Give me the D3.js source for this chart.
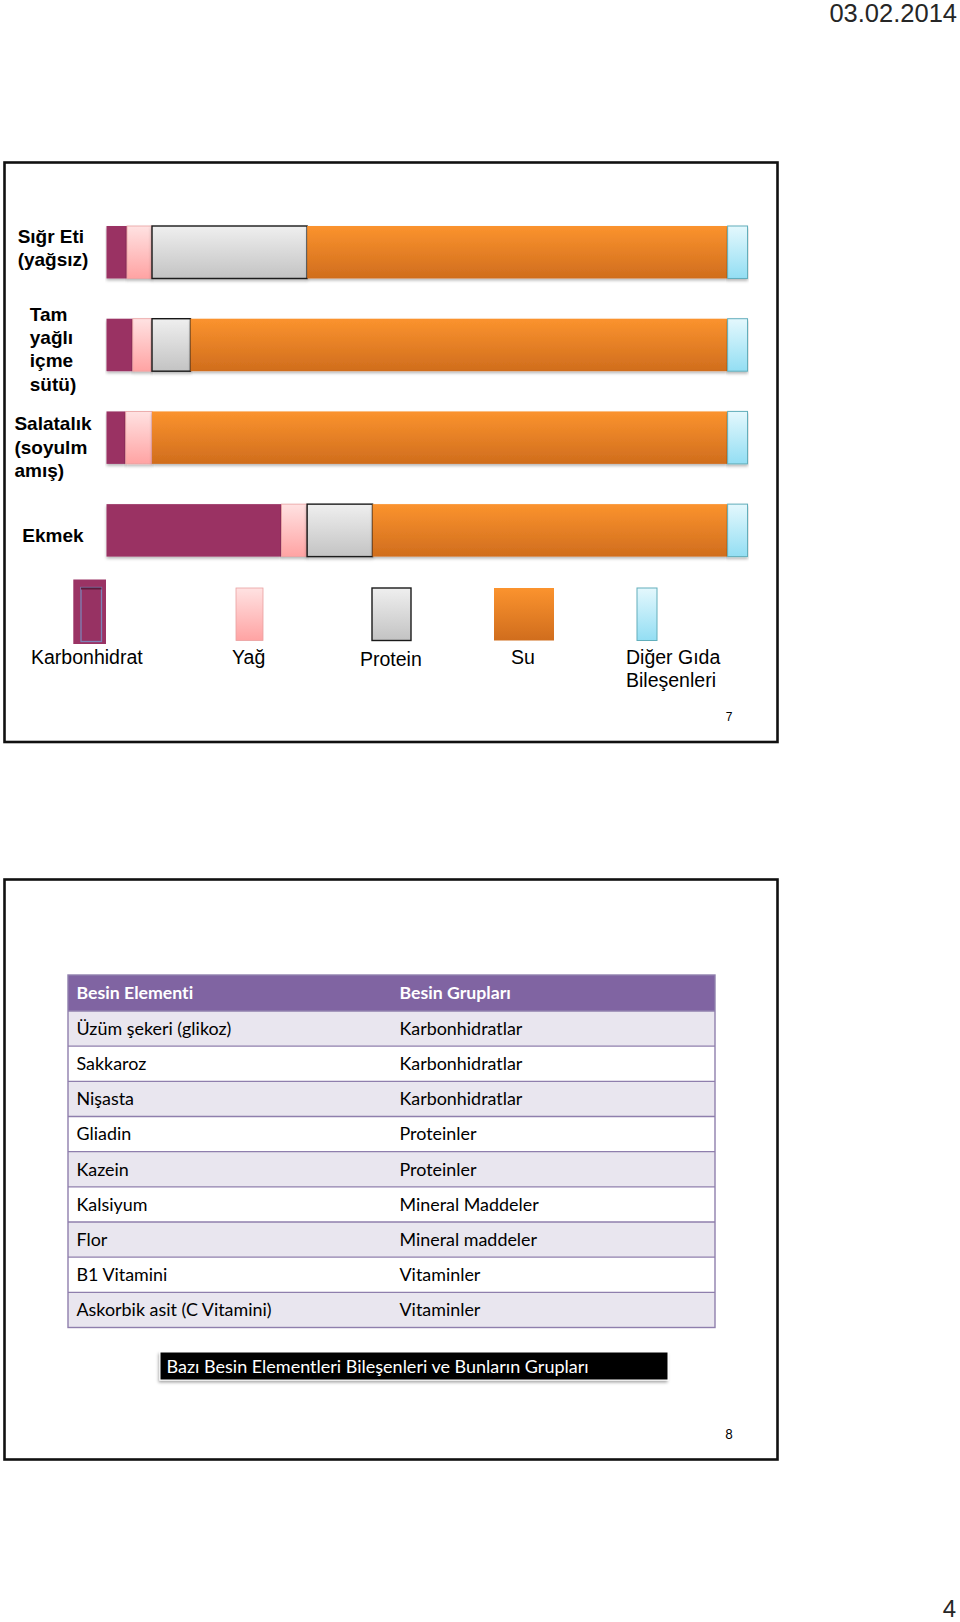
<!DOCTYPE html>
<html>
<head>
<meta charset="utf-8">
<script src="https://cdn.jsdelivr.net/npm/d3@7/dist/d3.min.js"></script>
<style>
  html, body { margin: 0; padding: 0; background: #fff; }
  svg { display: block; }
  text { font-variant-ligatures: none; font-feature-settings: "liga" 0, "clig" 0; }
</style>
</head>
<body>
<svg id="page" width="960" height="1622"></svg>
<script>
// ---------------- DATA ----------------
const foods = ["Sığr Eti (yağsız)", "Tam yağlı içme sütü)", "Salatalık (soyulmamış)", "Ekmek"];
const foodLabelLines = [["Sığr Eti", "(yağsız)"], ["Tam", "yağlı", "içme", "sütü)"], ["Salatalık", "(soyulm", "amış)"], ["Ekmek"]];
const seriesKeys = ["Karbonhidrat", "Yağ", "Protein", "Su", "Diğer Gıda Bileşenleri"];
const carbValues    = [3.2, 4.1, 3.0, 27.3];
const fatValues     = [3.9, 3.0, 4.1, 4.0];
const proteinValues = [24.2, 6.0, 0.0, 10.2];
const waterValues   = [65.6, 83.8, 89.8, 55.4];
const otherValues   = [3.1, 3.1, 3.1, 3.1];
const legendLabelLines = [["Karbonhidrat"], ["Yağ"], ["Protein"], ["Su"], ["Diğer Gıda", "Bileşenleri"]];

const tableHeaders = ["Besin Elementi", "Besin Grupları"];
const nutrientElements = ["Üzüm şekeri (glikoz)", "Sakkaroz", "Nişasta", "Gliadin", "Kazein", "Kalsiyum", "Flor", "B1 Vitamini", "Askorbik asit (C Vitamini)"];
const nutrientGroups = ["Karbonhidratlar", "Karbonhidratlar", "Karbonhidratlar", "Proteinler", "Proteinler", "Mineral Maddeler", "Mineral maddeler", "Vitaminler", "Vitaminler"];
const tableCaption = "Bazı Besin Elementleri Bileşenleri ve Bunların Grupları";
const headerDate = "03.02.2014";
const slideNumbers = ["7", "8"];
const pageNumber = "4";

// ---------------- LAYOUT ----------------
const svg = d3.select("#page");
const defs = svg.append("defs");

function vGrad(id, top, bottom) {
  const g = defs.append("linearGradient").attr("id", id).attr("x1", 0).attr("y1", 0).attr("x2", 0).attr("y2", 1);
  g.append("stop").attr("offset", "0%").attr("stop-color", top);
  g.append("stop").attr("offset", "100%").attr("stop-color", bottom);
}
vGrad("gFat", "#ffe2e2", "#ffa3a3");
vGrad("gProt", "#efefef", "#c3c3c3");
vGrad("gWater", "#fb932e", "#d06d1d");
vGrad("gOther", "#e4f8fd", "#93def3");

const shadow = defs.append("filter").attr("id", "shadow").attr("x", "-5%").attr("y", "-20%").attr("width", "110%").attr("height", "150%");
shadow.append("feDropShadow").attr("dx", 0).attr("dy", 2).attr("stdDeviation", 1.6).attr("flood-color", "#000").attr("flood-opacity", 0.28);
const capShadow = defs.append("filter").attr("id", "capShadow").attr("x", "-5%").attr("y", "-30%").attr("width", "110%").attr("height", "180%");
capShadow.append("feDropShadow").attr("dx", -1).attr("dy", 2).attr("stdDeviation", 1.5).attr("flood-color", "#000").attr("flood-opacity", 0.35);

const seriesStyle = {
  "Karbonhidrat": { fill: "#9a3364", stroke: "none", sw: 0 },
  "Yağ": { fill: "url(#gFat)", stroke: "#e9a0a0", sw: 0.8 },
  "Protein": { fill: "url(#gProt)", stroke: "#1a1a1a", sw: 1.4 },
  "Su": { fill: "url(#gWater)", stroke: "none", sw: 0 },
  "Diğer Gıda Bileşenleri": { fill: "url(#gOther)", stroke: "#62aebb", sw: 1 }
};

// Slide frames
const frames = [{ x: 4.5, y: 162.5, w: 773, h: 579.5 }, { x: 4.5, y: 879.5, w: 773, h: 580 }];
svg.selectAll("rect.frame").data(frames).join("rect").attr("class", "frame")
  .attr("x", d => d.x).attr("y", d => d.y).attr("width", d => d.w).attr("height", d => d.h)
  .attr("fill", "#fff").attr("stroke", "#111").attr("stroke-width", 2.6);

// Header date & page number
svg.append("text").attr("x", 957).attr("y", 21.5).attr("text-anchor", "end")
  .attr("font-family", "Liberation Sans, Arial, sans-serif").attr("font-size", 25.5).attr("fill", "#262626")
  .text(headerDate);
svg.append("text").attr("x", 956).attr("y", 1617).attr("text-anchor", "end")
  .attr("font-family", "Liberation Sans, Arial, sans-serif").attr("font-size", 24).attr("fill", "#262626")
  .text(pageNumber);

// ---------------- CHART (slide 1) ----------------
const table = foods.map((f, i) => ({
  food: f,
  "Karbonhidrat": carbValues[i],
  "Yağ": fatValues[i],
  "Protein": proteinValues[i],
  "Su": waterValues[i],
  "Diğer Gıda Bileşenleri": otherValues[i]
}));
const stacked = d3.stack().keys(seriesKeys)(table);

const x = d3.scaleLinear().domain([0, 100]).range([106.5, 747.5]);
const y = d3.scaleBand().domain(foods).range([226, 556.6]).paddingInner(0.434).paddingOuter(0);

const chart = svg.append("g");
const layers = chart.selectAll("g.layer").data(stacked).join("g").attr("class", "layer");
layers.each(function (layer) {
  const st = seriesStyle[layer.key];
  d3.select(this).selectAll("rect").data(layer.filter(d => d[1] - d[0] > 0)).join("rect")
    .attr("x", d => x(d[0]))
    .attr("y", d => y(d.data.food))
    .attr("width", d => x(d[1]) - x(d[0]))
    .attr("height", y.bandwidth())
    .attr("fill", st.fill)
    .attr("stroke", st.stroke)
    .attr("stroke-width", st.sw)
    .attr("filter", "url(#shadow)");
});

// Category labels (block centered, lines left-aligned)
const labelFont = "Liberation Sans, Arial, sans-serif";
const labelSize = 19;
const labelLH = 23.4;
const labelCenterX = 53;
const labelDy = [-4.5, 4.1, 9.3, 5.1];
foods.forEach((f, i) => {
  const lines = foodLabelLines[i];
  const g = chart.append("g");
  const cy = y(f) + y.bandwidth() / 2 + labelDy[i];
  const t = g.selectAll("text").data(lines).join("text")
    .attr("font-family", labelFont).attr("font-weight", "bold").attr("font-size", labelSize).attr("fill", "#000")
    .attr("y", (d, j) => cy + (j - (lines.length - 1) / 2) * labelLH + labelSize * 0.35)
    .text(d => d);
  let maxW = 0;
  t.each(function () { maxW = Math.max(maxW, this.getComputedTextLength()); });
  t.attr("x", labelCenterX - maxW / 2);
});

// Legend
const legendLayout = [
  { x0: 73.3, x1: 106, y0: 579.5, y1: 644, lx: 31, ly: 657 },
  { x0: 236, x1: 263, y0: 588, y1: 640.5, lx: 232, ly: 657 },
  { x0: 372, x1: 411, y0: 588, y1: 640.5, lx: 360, ly: 659 },
  { x0: 494, x1: 554, y0: 588, y1: 640.5, lx: 511, ly: 657 },
  { x0: 637, x1: 657, y0: 588, y1: 640.5, lx: 626, ly: 657 }
];
const legend = svg.append("g");
seriesKeys.forEach((k, i) => {
  const L = legendLayout[i];
  const st = seriesStyle[k];
  legend.append("rect").attr("x", L.x0).attr("y", L.y0).attr("width", L.x1 - L.x0).attr("height", L.y1 - L.y0)
    .attr("fill", st.fill).attr("stroke", st.stroke).attr("stroke-width", st.sw);
  if (k === "Karbonhidrat") {
    legend.append("rect").attr("x", 81).attr("y", 587.5).attr("width", 20.5).attr("height", 54)
      .attr("fill", "#973263").attr("stroke", "#7d83b6").attr("stroke-width", 1.3);
    legend.append("line").attr("x1", 81).attr("x2", 101.5).attr("y1", 588.5).attr("y2", 588.5)
      .attr("stroke", "#5e1b3c").attr("stroke-width", 2);
  }
  legend.selectAll(null).data(legendLabelLines[i]).join("text")
    .attr("x", L.lx).attr("y", (d, j) => L.ly + j * 23 + 6.8)
    .attr("font-family", labelFont).attr("font-size", 19.5).attr("fill", "#000")
    .text(d => d);
});

// slide numbers
svg.append("text").attr("x", 729).attr("y", 720.5).attr("text-anchor", "middle")
  .attr("font-family", "Liberation Sans, Arial, sans-serif").attr("font-size", 12).attr("fill", "#000").text(slideNumbers[0]);
svg.append("text").attr("x", 729).attr("y", 1438.5).attr("text-anchor", "middle")
  .attr("font-family", "Lato, sans-serif").attr("font-size", 13).attr("fill", "#000").text(slideNumbers[1]);

// ---------------- TABLE (slide 2) ----------------
const tX0 = 68, tX1 = 715, col2X = 399.5, textPad = 8.5;
const headTop = 975, headBot = 1011, tBot = 1327.5;
const rowY = d3.scaleBand().domain(d3.range(nutrientElements.length)).range([headBot, tBot]);
const tableFont = "Lato, 'Open Sans', sans-serif";
const tableSize = 17.9;
const tg = svg.append("g");

tg.append("rect").attr("x", tX0).attr("y", headTop).attr("width", tX1 - tX0).attr("height", headBot - headTop).attr("fill", "#8064a2");
tg.selectAll("rect.row").data(nutrientElements).join("rect").attr("class", "row")
  .attr("x", tX0).attr("y", (d, i) => rowY(i)).attr("width", tX1 - tX0).attr("height", rowY.bandwidth())
  .attr("fill", (d, i) => i % 2 === 0 ? "#e9e6ef" : "#ffffff");
tg.selectAll("line.sep").data(d3.range(nutrientElements.length)).join("line").attr("class", "sep")
  .attr("x1", tX0).attr("x2", tX1).attr("y1", i => rowY(i)).attr("y2", i => rowY(i))
  .attr("stroke", "#8f7fad").attr("stroke-width", 1.4);
tg.append("rect").attr("x", tX0).attr("y", headTop).attr("width", tX1 - tX0).attr("height", tBot - headTop)
  .attr("fill", "none").attr("stroke", "#8f7fad").attr("stroke-width", 1.4);

const colXs = [tX0 + textPad, col2X];
tableHeaders.forEach((h, c) => {
  tg.append("text").attr("x", colXs[c]).attr("y", (headTop + headBot) / 2 + 6.3)
    .attr("font-family", tableFont).attr("font-weight", "bold").attr("font-size", 17.7).attr("fill", "#fff").text(h);
});
[nutrientElements, nutrientGroups].forEach((arr, c) => {
  tg.selectAll(null).data(arr).join("text")
    .attr("x", colXs[c]).attr("y", (d, i) => rowY(i) + rowY.bandwidth() / 2 + 6.3)
    .attr("font-family", tableFont).attr("font-size", tableSize).attr("fill", "#000").text(d => d);
});

// Caption box
const cap = svg.append("g");
cap.append("rect").attr("x", 160).attr("y", 1352).attr("width", 508).attr("height", 28)
  .attr("fill", "#000").attr("stroke", "#fff").attr("stroke-width", 1).attr("filter", "url(#capShadow)");
cap.append("text").attr("x", 166.5).attr("y", 1372.5)
  .attr("font-family", tableFont).attr("font-size", 18).attr("fill", "#fff").text(tableCaption);
</script>
</body>
</html>
